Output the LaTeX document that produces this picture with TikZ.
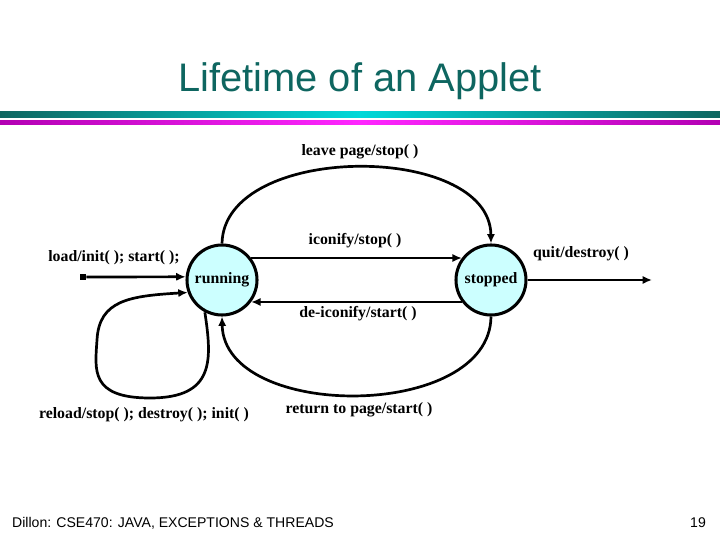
\documentclass[tikz,border=0pt]{standalone}
\usepackage{fontspec}
\setmainfont{Liberation Serif}
\newfontfamily\headfont{Liberation Sans}
\usetikzlibrary{arrows.meta}
\definecolor{titleteal}{HTML}{0E6660}
\definecolor{statefill}{HTML}{CCFFFF}
\begin{document}
\begin{tikzpicture}[x=0.03cm, y=-0.03cm,
  state/.style={circle, draw, line width=2.6pt, fill=statefill, minimum size=2.1cm, inner sep=0pt, font=\bfseries\fontsize{13.5}{15}\selectfont},
  trans/.style={line width=2.3pt, -{Latex[length=8pt,width=7pt]}},
  lbl/.style={font=\bfseries\fontsize{13.5}{15}\selectfont, inner sep=0pt}]
\useasboundingbox (0,0) rectangle (720,540);
% title and bars
\node[text=titleteal, font=\headfont\fontsize{34}{38}\selectfont] (title) at (360,81) {Lifetime of an Applet};
\shade[left color=titleteal, right color=cyan!70!teal] (0,112) rectangle (360,118);
\shade[left color=cyan!70!teal, right color=titleteal] (359.5,112) rectangle (720,118);
\shade[left color=violet!60!magenta, right color=magenta!85!white] (0,121) rectangle (360,125);
\shade[left color=magenta!85!white, right color=violet!60!magenta] (359.5,121) rectangle (720,125);
% states
\node[state] (running) at (222,280) {running};
\node[state] (stopped) at (491,280) {stopped};
\node[fill, inner sep=2.6pt] (src) at (83,277) {};
\coordinate (quitend) at (652,280);
% transitions
\draw[trans] (src) -- (running.175);
\draw[trans] (running.north) .. controls (224,142) and (490,142) .. (stopped.north);
\draw[trans] (running.37) -- (stopped.143);
\draw[trans] (stopped.217) -- (running.323);
\draw[trans] (stopped.south) .. controls (490,421) and (224,421) .. (running.south);
\draw[trans] (stopped.east) -- (quitend);
\draw[trans] (running.242) .. controls (212,360) and (215,398) .. (150,398)
  .. controls (90,398) and (95,370) .. (97,340)
  .. controls (99,300) and (130,296) .. (running.200);
% labels
\node[lbl] (leave) at (360,152) {leave page/stop( )};
\node[lbl] (iconify) at (355,241) {iconify/stop( )};
\node[lbl] (load) at (114,258) {load/init( ); start( );};
\node[lbl] (quit) at (581,254) {quit/destroy( )};
\node[lbl] (deicon) at (358,314) {de-iconify/start( )};
\node[lbl] (reload) at (144,415) {reload/stop( ); destroy( ); init( )};
\node[lbl] (return) at (359,410) {return to page/start( )};
% footer
\node[font=\headfont\fontsize{12}{14}\selectfont] (foot) at (173,523) {Dillon: CSE470: JAVA, EXCEPTIONS \& THREADS};
\node[font=\headfont\fontsize{12}{14}\selectfont] (page) at (698,523) {19};
\end{tikzpicture}
\end{document}
